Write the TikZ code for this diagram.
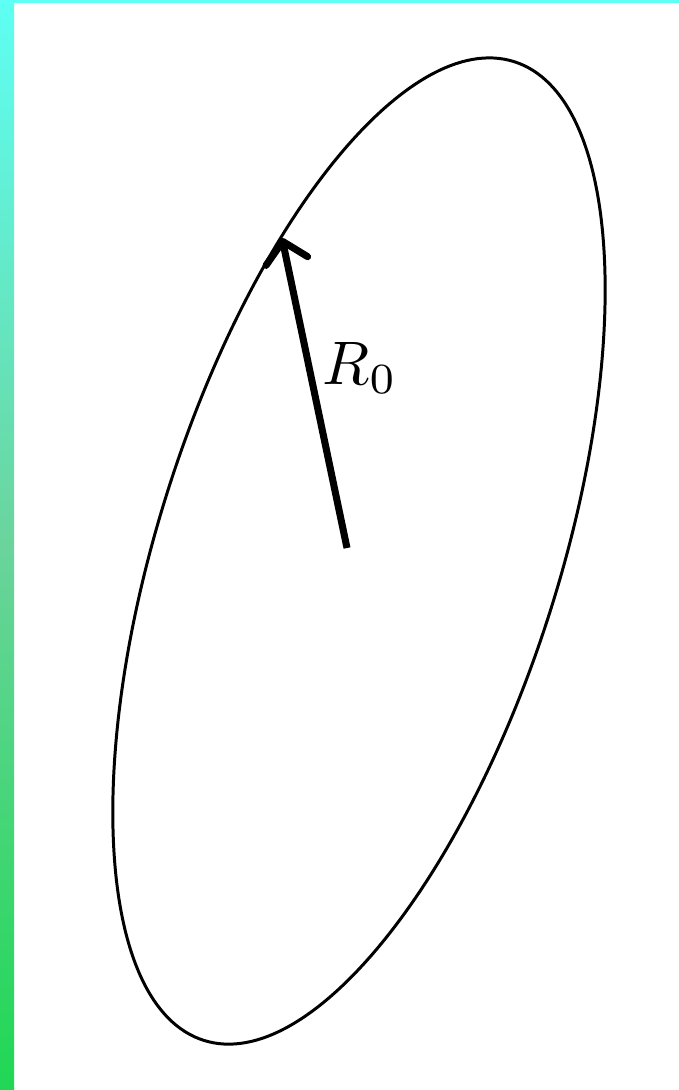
\documentclass[tikz,border=0pt]{standalone}
\usepackage{xcolor}
\usepackage{graphicx}
\usepackage{tikz}
\usetikzlibrary{positioning, arrows.meta}
\definecolor{stripcyan}{HTML}{5EFFF4}
\definecolor{stripmid}{HTML}{6AD49C}
\definecolor{stripgreen}{HTML}{20D754}

\begin{document}
\begin{tikzpicture}[x=0.02cm, y=-0.02cm,
    radius/.style={-{Straight Barb[length=4mm, width=8.5mm, round]}, line width=4pt},
    outline/.style={draw=black, line width=1.7pt}]
  \useasboundingbox (0,0) rectangle (679,1090);
  \fill[white] (0,0) rectangle (679,1090);
  % coloured frame on the left and top
  \shade[top color=stripcyan, bottom color=stripgreen, middle color=stripmid] (0,0) rectangle (14,1090);
  \fill[stripcyan] (0,0) rectangle (679,3);
  \coordinate (ctr) at (359,551);
  \coordinate (tail) at (347,548);
  \coordinate (tip) at (282,238);
  \draw[outline, rotate around={72.4:(ctr)}] (ctr) ellipse [x radius=10.27cm, y radius=4.01cm];
  \draw[radius] (tail) -- (tip);
  \node (r0) at (360,368) {\scalebox{3.5}{$R_0$}};
\end{tikzpicture}
\end{document}
